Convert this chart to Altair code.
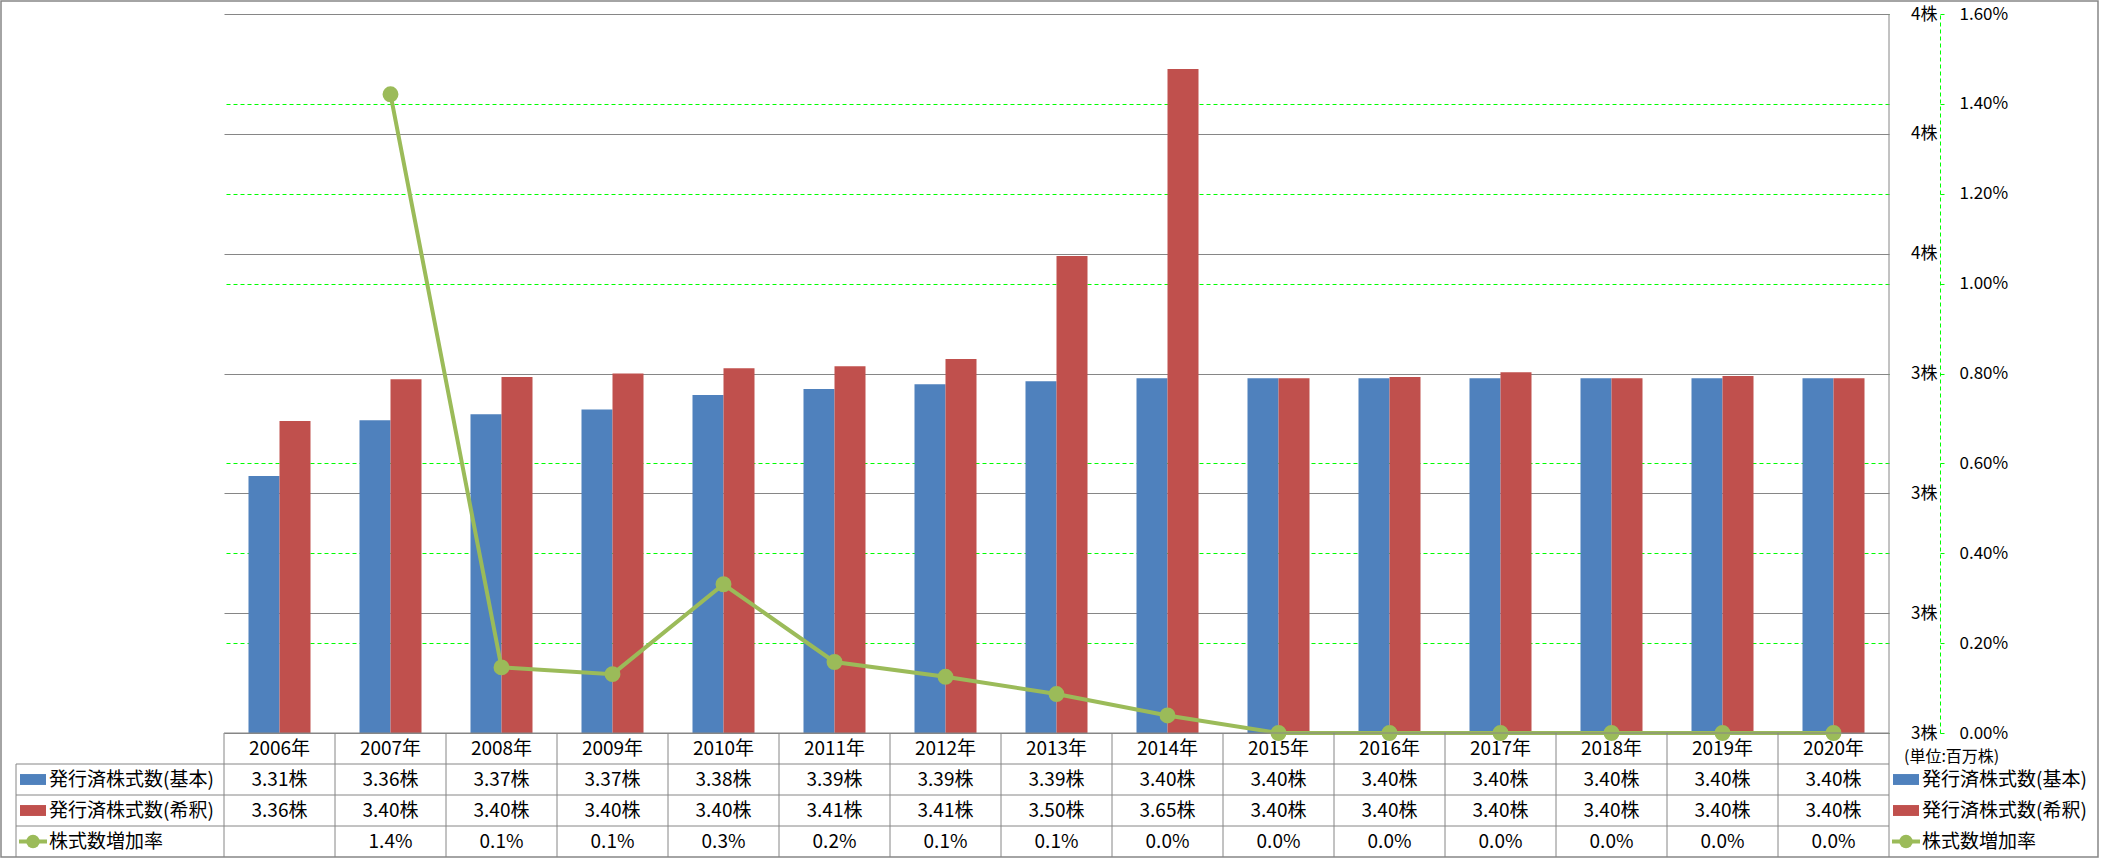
import altair as alt
import pandas as pd

# ---------------- data ----------------
YEARS = ["2006", "2007", "2008", "2009", "2010", "2011", "2012", "2013",
         "2014", "2015", "2016", "2017", "2018", "2019", "2020"]
BASIC = [3.3145, 3.361, 3.366, 3.370, 3.382, 3.387, 3.391, 3.3936,
         3.396, 3.396, 3.396, 3.396, 3.396, 3.396, 3.396]
DILUTED = [3.3604, 3.3953, 3.397, 3.400, 3.4044, 3.406, 3.412, 3.498,
           3.654, 3.396, 3.397, 3.401, 3.396, 3.398, 3.396]
RATE = [None, 0.014213, 0.00146, 0.00131, 0.00331, 0.00158, 0.00125, 0.000866,
        0.00039, 0.0, 0.0, 0.0, 0.0, 0.0, 0.0]
SERIES = ["発行済株式数(基本)", "発行済株式数(希釈)", "株式数増加率"]
COLORS = ["#4F81BD", "#C0504D", "#9BBB59"]
Y_DOMAIN = [3.1, 3.7]
Y_TICKS = [3.1, 3.2, 3.3, 3.4, 3.5, 3.6, 3.7]
PCT_DOMAIN = [0.0, 0.016]
PCT_TICKS = [0.0, 0.002, 0.004, 0.006, 0.008, 0.010, 0.012, 0.014, 0.016]
YEAR_SUFFIX = "年"
SHARE_SUFFIX = "株"
UNIT_TEXT = "(単位:百万株)"

# ---------------- style ----------------
FONT = "Noto Sans CJK JP"
GRAY = "#868686"
GRID_GREEN = "#00FF00"
W, H = 1665, 719
TBL = 124  # table height below plot
ROWS = ["hdr", "r0", "r1", "r2"]

bar_df = pd.DataFrame({
    "year": YEARS * 2,
    "series": [SERIES[0]] * len(YEARS) + [SERIES[1]] * len(YEARS),
    "value": BASIC + DILUTED,
})
line_df = pd.DataFrame({"year": YEARS, "rate": RATE})

tbl_rows = []
for i, y in enumerate(YEARS):
    tbl_rows.append({"year": y, "row": "hdr", "text": y + YEAR_SUFFIX})
    tbl_rows.append({"year": y, "row": "r0", "text": f"{BASIC[i]:.2f}" + SHARE_SUFFIX})
    tbl_rows.append({"year": y, "row": "r1", "text": f"{DILUTED[i]:.2f}" + SHARE_SUFFIX})
    if RATE[i] is not None:
        tbl_rows.append({"year": y, "row": "r2", "text": f"{RATE[i] * 100:.1f}%"})
tbl_df = pd.DataFrame(tbl_rows)

legend_df = pd.DataFrame({"row": ["r0", "r1", "r2"], "name": SERIES, "color": COLORS})
swatch_df = legend_df.iloc[:2]
rate_leg_df = legend_df.iloc[2:]

x_scale = alt.Scale(domain=YEARS, paddingInner=0, paddingOuter=0)
x_enc = alt.X("year:N", sort=YEARS, scale=x_scale, axis=None)
row_scale = alt.Scale(domain=ROWS, range=[H, H + TBL], paddingInner=0, paddingOuter=0)
y_row = alt.Y("row:N", sort=ROWS, scale=row_scale, axis=None)
y_row0 = alt.Y("row:N", sort=ROWS, scale=row_scale, axis=None, bandPosition=0)

pct_scale = alt.Scale(domain=PCT_DOMAIN, nice=False, zero=True)

# invisible carrier of the secondary axis (drawn first so the gray grid lies on top)
pct_axis_layer = alt.Chart(line_df).mark_line(strokeOpacity=0).encode(
    x=x_enc,
    y=alt.Y("rate:Q", scale=pct_scale,
            axis=alt.Axis(orient="right", values=PCT_TICKS, format=".2%", title=None,
                          offset=51, labelAlign="left", labelBaseline="middle", labelPadding=15,
                          labelFont=FONT, labelFontSize=17, labelColor="black",
                          ticks=True, tickSize=4, tickColor=GRID_GREEN, tickWidth=1,
                          domain=True, domainColor=GRID_GREEN, domainDash=[4, 3], domainWidth=1,
                          grid=True, gridColor=GRID_GREEN, gridDash=[4, 3], gridWidth=1)),
)

bars = alt.Chart(bar_df).mark_bar().encode(
    x=x_enc,
    xOffset=alt.XOffset("series:N", sort=SERIES[:2],
                        scale=alt.Scale(domain=SERIES[:2], paddingInner=0, paddingOuter=0.79)),
    y=alt.Y("value:Q",
            scale=alt.Scale(domain=Y_DOMAIN, zero=False, nice=False),
            axis=alt.Axis(orient="right", values=Y_TICKS, title=None,
                          labelExpr="format(datum.value, '.0f') + '株'",
                          labelAlign="right", labelBaseline="middle", labelPadding=48,
                          labelFont=FONT, labelFontSize=17, labelColor="black",
                          ticks=False, tickSize=0, domain=False,
                          grid=True, gridColor=GRAY, gridWidth=1)),
    y2=alt.datum(Y_DOMAIN[0]),
    color=alt.Color("series:N", scale=alt.Scale(domain=SERIES[:2], range=COLORS[:2]), legend=None),
)

line = alt.Chart(line_df).mark_line(
    color=COLORS[2], strokeWidth=4,
    point=alt.OverlayMarkDef(filled=True, size=254, color=COLORS[2], opacity=1),
).encode(
    x=x_enc,
    y=alt.Y("rate:Q", scale=pct_scale, axis=None),
)

tbl_text = alt.Chart(tbl_df).mark_text(fontSize=19, font=FONT, color="black").encode(
    x=x_enc, y=y_row, text="text:N")

vlines = alt.Chart(pd.DataFrame({"year": YEARS})).mark_rule(color=GRAY, strokeWidth=1).encode(
    x=alt.X("year:N", sort=YEARS, scale=x_scale, axis=None, bandPosition=0),
    y=alt.value(H), y2=alt.value(H + TBL))

hlines = alt.Chart(pd.DataFrame({"row": ROWS[1:]})).mark_rule(color=GRAY, strokeWidth=1).encode(
    y=y_row0, x=alt.value(-208), x2=alt.value(W))

topline = alt.Chart(pd.DataFrame({"row": ROWS[:1]})).mark_rule(color=GRAY, strokeWidth=1).encode(
    y=y_row0, x=alt.value(0), x2=alt.value(W))

leftline = alt.Chart(pd.DataFrame({"row": ["r0"]})).mark_rule(color=GRAY, strokeWidth=1).encode(
    y=y_row0, y2=alt.value(H + TBL), x=alt.value(-208))

rightline = alt.Chart(pd.DataFrame({"row": ["hdr"]})).mark_rule(color=GRAY, strokeWidth=1).encode(
    x=alt.value(W), y=alt.value(0), y2=alt.value(H + TBL))

frame = alt.Chart(pd.DataFrame({"row": ["hdr"]})).mark_rect(
    fill="transparent", stroke=GRAY, strokeWidth=1.5).encode(
    x=alt.value(-223), x2=alt.value(W + 209), y=alt.value(-13), y2=alt.value(H + TBL))

RECT_SHAPE = "M-1,-0.42H1V0.42H-1Z"


def legend_block(x0):
    sw = alt.Chart(swatch_df).mark_point(shape=RECT_SHAPE, filled=True, size=676, opacity=1).encode(
        x=alt.value(x0), y=y_row, color=alt.Color("color:N", scale=None))
    lr = alt.Chart(rate_leg_df).mark_rule(color=COLORS[2], strokeWidth=4).encode(
        x=alt.value(x0 - 14), x2=alt.value(x0 + 14), y=y_row)
    lp = alt.Chart(rate_leg_df).mark_point(filled=True, size=180, opacity=1, color=COLORS[2]).encode(
        x=alt.value(x0), y=y_row)
    lt = alt.Chart(legend_df).mark_text(fontSize=19, font=FONT, color="black", align="left").encode(
        x=alt.value(x0 + 16), y=y_row, text="name:N")
    return [sw, lr, lp, lt]


unit = alt.Chart(pd.DataFrame({"row": ["hdr"], "t": [UNIT_TEXT]})).mark_text(
    fontSize=16, font=FONT, color="black", align="left", dy=8).encode(
    x=alt.value(W + 15), y=y_row, text="t:N")

chart = alt.layer(
    pct_axis_layer, bars, line, tbl_text, vlines, hlines, topline, leftline, rightline, frame, unit,
    *legend_block(-191), *legend_block(W + 17),
).resolve_scale(y="independent").properties(
    width=W, height=H,
    padding={"left": 224, "top": 14, "right": 212, "bottom": 125},
    autosize=alt.AutoSizeParams(type="none"),
    background="white",
).configure(font=FONT).configure_view(stroke=None)

chart.save("out.html", embed_options={"renderer": "svg", "actions": False})
